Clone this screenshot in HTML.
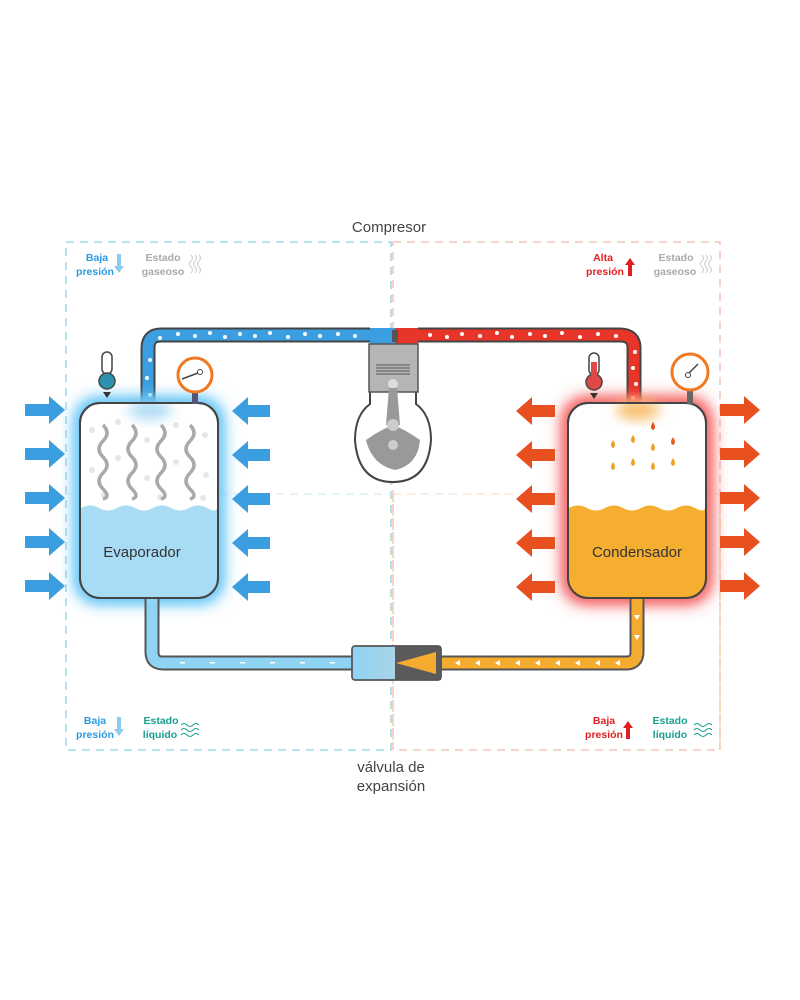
<!DOCTYPE html>
<html><head><meta charset="utf-8"><style>
body{margin:0;background:#fff;width:800px;height:1000px;overflow:hidden}
svg{display:block}
text{font-family:"Liberation Sans",sans-serif}
</style></head><body>
<svg width="800" height="1000" viewBox="0 0 800 1000" xmlns="http://www.w3.org/2000/svg">
<defs>
<filter id="blur" x="-40%" y="-40%" width="180%" height="180%"><feGaussianBlur stdDeviation="9"/></filter>
<filter id="sb" x="-40%" y="-40%" width="180%" height="180%"><feGaussianBlur stdDeviation="6"/></filter>
<linearGradient id="vg" x1="0" x2="1"><stop offset="0" stop-color="#8fd3f5"/><stop offset="0.5" stop-color="#a9d4e6"/><stop offset="1" stop-color="#8c9a8a"/></linearGradient>
</defs>
<!-- dashed frames -->
<rect x="66" y="242" width="325" height="508" fill="none" stroke="#8cd0e6" stroke-width="1.3" stroke-dasharray="8 6"/>
<rect x="393" y="242" width="327" height="508" fill="none" stroke="#f5b8b0" stroke-width="1.3" stroke-dasharray="8 6"/>
<line x1="66" y1="494" x2="391" y2="494" stroke="#d3ecf4" stroke-width="1.3" stroke-dasharray="8 6"/>
<line x1="393" y1="494" x2="720" y2="494" stroke="#f9e2d0" stroke-width="1.3" stroke-dasharray="8 6"/>
<line x1="393" y1="494" x2="393" y2="750" stroke="#f5c89a" stroke-width="1.3" stroke-dasharray="8 6"/>
<line x1="720" y1="494" x2="720" y2="750" stroke="#f5c89a" stroke-width="1.3" stroke-dasharray="8 6"/>
<text x="389" y="232" font-size="15" fill="#444" text-anchor="middle">Compresor</text>
<text x="391" y="772" font-size="15" fill="#444" text-anchor="middle">válvula de</text>
<text x="391" y="791" font-size="15" fill="#444" text-anchor="middle">expansión</text>

<!-- top pipe -->
<path d="M148 405 V348 Q148 335 161 335 H370" fill="none" stroke="#444" stroke-width="15"/>
<path d="M148 405 V348 Q148 335 161 335 H370" fill="none" stroke="#3a9ee0" stroke-width="11"/>
<path d="M418 335 H620 Q634 335 634 348 V405" fill="none" stroke="#444" stroke-width="15"/>
<path d="M418 335 H620 Q634 335 634 348 V405" fill="none" stroke="#e8352a" stroke-width="11"/>
<g fill="#fff">
<circle cx="150" cy="360" r="2"/><circle cx="147" cy="378" r="2"/><circle cx="150" cy="395" r="2"/><circle cx="160" cy="338" r="2"/>
<circle cx="178" cy="334" r="2"/><circle cx="195" cy="336" r="2"/><circle cx="210" cy="333" r="2"/><circle cx="225" cy="337" r="2"/><circle cx="240" cy="334" r="2"/><circle cx="255" cy="336" r="2"/><circle cx="270" cy="333" r="2"/><circle cx="288" cy="337" r="2"/><circle cx="305" cy="334" r="2"/><circle cx="320" cy="336" r="2"/><circle cx="338" cy="334" r="2"/><circle cx="355" cy="336" r="2"/>
<circle cx="430" cy="335" r="2"/><circle cx="447" cy="337" r="2"/><circle cx="462" cy="334" r="2"/><circle cx="480" cy="336" r="2"/><circle cx="497" cy="333" r="2"/><circle cx="512" cy="337" r="2"/><circle cx="530" cy="334" r="2"/><circle cx="545" cy="336" r="2"/><circle cx="562" cy="333" r="2"/><circle cx="580" cy="337" r="2"/><circle cx="598" cy="334" r="2"/><circle cx="616" cy="336" r="2"/>
<circle cx="635" cy="352" r="2"/><circle cx="633" cy="368" r="2"/><circle cx="636" cy="384" r="2"/><circle cx="633" cy="398" r="2"/>
</g>

<!-- compressor -->
<path d="M370 392 V404 Q355 415 355 440 Q358 482 393 482 Q428 482 431 440 Q431 415 416 404 V392" fill="#fff" stroke="#444" stroke-width="2"/>
<rect x="370" y="328" width="25" height="16" fill="#3a9ee0"/>
<rect x="395" y="328" width="23" height="16" fill="#e8352a"/>
<rect x="392" y="330" width="6" height="12" fill="#555"/>
<rect x="369" y="344" width="49" height="48" fill="#b5b5b5" stroke="#555" stroke-width="1.5"/>
<g stroke="#555" stroke-width="1"><line x1="376" y1="365" x2="410" y2="365"/><line x1="376" y1="368" x2="410" y2="368"/><line x1="376" y1="371" x2="410" y2="371"/><line x1="376" y1="374" x2="410" y2="374"/></g>
<circle cx="393" cy="384" r="5" fill="#ddd"/>
<path d="M389 388 L386 425 H400 L397 388z" fill="#999"/>
<path d="M366 440 Q380 430 393 425 Q406 430 420 440 Q418 465 395 470 Q372 465 366 440z" fill="#999"/>
<circle cx="393" cy="425" r="6" fill="#ccc"/><circle cx="393" cy="445" r="5" fill="#ccc"/>

<!-- glows -->
<rect x="76" y="399" width="146" height="203" rx="22" fill="#6cc8f7" filter="url(#blur)"/>
<rect x="76" y="399" width="146" height="203" rx="22" fill="#6cc8f7" filter="url(#sb)"/>
<rect x="564" y="399" width="146" height="203" rx="22" fill="#f55050" filter="url(#blur)"/>
<rect x="564" y="399" width="146" height="203" rx="22" fill="#f57070" filter="url(#sb)"/>

<!-- bottom pipes -->
<path d="M152 596 V652 Q152 663 163 663 H355" fill="none" stroke="#555" stroke-width="15"/>
<path d="M152 596 V652 Q152 663 163 663 H355" fill="none" stroke="#8fd3f5" stroke-width="11"/>
<path d="M440 663 H626 Q637 663 637 652 V596" fill="none" stroke="#555" stroke-width="15"/>
<path d="M440 663 H626 Q637 663 637 652 V596" fill="none" stroke="#f5aa30" stroke-width="11"/>
<g fill="#fff">
<rect x="180" y="662" width="5" height="1.5"/><rect x="210" y="662" width="5" height="1.5"/><rect x="240" y="662" width="5" height="1.5"/><rect x="270" y="662" width="5" height="1.5"/><rect x="300" y="662" width="5" height="1.5"/><rect x="330" y="662" width="5" height="1.5"/>
<path d="M455 663l5-3v6z"/><path d="M475 663l5-3v6z"/><path d="M495 663l5-3v6z"/><path d="M515 663l5-3v6z"/><path d="M535 663l5-3v6z"/><path d="M555 663l5-3v6z"/><path d="M575 663l5-3v6z"/><path d="M595 663l5-3v6z"/><path d="M615 663l5-3v6z"/>
<path d="M637 620l-3-5h6z"/><path d="M637 640l-3-5h6z"/>
</g>
<!-- valve -->
<rect x="352" y="646" width="89" height="34" rx="3" fill="url(#vg)" stroke="#555" stroke-width="1.5"/>
<rect x="395" y="646" width="46" height="34" fill="#5a5a5a"/>
<path d="M396 663 L436 652 V674z" fill="#f5aa30"/>
<rect x="352" y="646" width="89" height="34" rx="3" fill="none" stroke="#555" stroke-width="1.5"/>

<!-- evaporator -->
<rect x="80" y="403" width="138" height="195" rx="20" fill="#fff" stroke="#444" stroke-width="2"/>
<g fill="#e6e6e6">
<circle cx="92" cy="430" r="3"/><circle cx="118" cy="422" r="3"/><circle cx="147" cy="440" r="3"/><circle cx="176" cy="425" r="3"/><circle cx="205" cy="435" r="3"/><circle cx="92" cy="470" r="3"/><circle cx="118" cy="458" r="3"/><circle cx="147" cy="478" r="3"/><circle cx="176" cy="462" r="3"/><circle cx="206" cy="475" r="3"/><circle cx="104" cy="495" r="3"/><circle cx="160" cy="497" r="3"/><circle cx="203" cy="498" r="3"/>
</g>
<path d="M81 508 Q90 503 99 508 T117 508 T135 508 T153 508 T171 508 T189 508 T207 508 T217 508 V578 Q217 597 198 597 H100 Q81 597 81 578z" fill="#a8dcf5"/>
<g fill="none" stroke="#aaa" stroke-width="3.5">
<path d="M103 425 q8 8 0 16 t0 16 t0 16 t0 16 t0 10"/><path d="M132 425 q8 8 0 16 t0 16 t0 16 t0 16 t0 10"/><path d="M161 425 q8 8 0 16 t0 16 t0 16 t0 16 t0 10"/><path d="M190 425 q8 8 0 16 t0 16 t0 16 t0 16 t0 10"/>
</g>
<ellipse cx="150" cy="410" rx="22" ry="10" fill="#7fc8ef" opacity="0.6" filter="url(#sb)"/>
<rect x="80" y="403" width="138" height="195" rx="20" fill="none" stroke="#444" stroke-width="2"/>
<text x="142" y="557" font-size="15" fill="#333" text-anchor="middle">Evaporador</text>

<!-- condenser -->
<rect x="568" y="403" width="138" height="195" rx="20" fill="#fff" stroke="#444" stroke-width="2"/>
<path d="M569 508 Q578 503 587 508 T605 508 T623 508 T641 508 T659 508 T677 508 T695 508 T705 508 V578 Q705 597 686 597 H588 Q569 597 569 578z" fill="#f5ae30"/>
<ellipse cx="638" cy="410" rx="22" ry="10" fill="#f8c070" filter="url(#sb)"/>
<g fill="#f0a020">
<path d="M613 440q-4 6 0 8q4-2 0-8z"/><path d="M633 435q-4 6 0 8q4-2 0-8z"/><path d="M653 443q-4 6 0 8q4-2 0-8z"/><path d="M613 462q-4 6 0 8q4-2 0-8z"/><path d="M633 458q-4 6 0 8q4-2 0-8z"/><path d="M653 462q-4 6 0 8q4-2 0-8z"/><path d="M673 458q-4 6 0 8q4-2 0-8z"/><path d="M673 437q-4 6 0 8q4-2 0-8z" fill="#e86020"/><path d="M653 422q-4 6 0 8q4-2 0-8z" fill="#e85020"/>
</g>
<rect x="568" y="403" width="138" height="195" rx="20" fill="none" stroke="#444" stroke-width="2"/>
<text x="637" y="557" font-size="15" fill="#333" text-anchor="middle">Condensador</text>

<!-- thermometers and gauges -->
<g><rect x="102" y="352" width="10" height="22" rx="5" fill="#fff" stroke="#444" stroke-width="1.5"/><circle cx="107" cy="381" r="8" fill="#2b93b0" stroke="#444" stroke-width="1.5"/><path d="M103 392h8l-4 6z" fill="#333"/></g>
<rect x="192" y="390" width="6" height="14" fill="#557"/>
<circle cx="195" cy="375" r="17" fill="#fff" stroke="#f07820" stroke-width="3"/>
<path d="M182 379 L198 373" stroke="#444" stroke-width="1.5"/><circle cx="200" cy="372" r="2.5" fill="#fff" stroke="#444"/>
<g><rect x="589" y="353" width="10" height="22" rx="5" fill="#fff" stroke="#444" stroke-width="1.5"/><circle cx="594" cy="382" r="8" fill="#e04848" stroke="#444" stroke-width="1.5"/><rect x="591" y="362" width="6" height="14" fill="#e04848"/><path d="M590 393h8l-4 6z" fill="#333"/></g>
<rect x="687" y="388" width="6" height="16" fill="#666"/>
<circle cx="690" cy="372" r="18" fill="#fff" stroke="#f07820" stroke-width="3"/>
<path d="M688 374 L698 364" stroke="#444" stroke-width="1.5"/><circle cx="688" cy="375" r="2.5" fill="#fff" stroke="#444"/>

<!-- arrows -->
<g fill="#3a9ee0">
<path id="ar" d="M25 404h24v-8l16 14l-16 14v-8h-24z"/>
<use href="#ar" y="44"/><use href="#ar" y="88"/><use href="#ar" y="132"/><use href="#ar" y="176"/>
<path id="al" d="M270 405h-22v-8l-16 14l16 14v-8h22z"/>
<use href="#al" y="44"/><use href="#al" y="88"/><use href="#al" y="132"/><use href="#al" y="176"/>
</g>
<g fill="#e85020">
<path id="ol" d="M555 405h-23v-8l-16 14l16 14v-8h23z"/>
<use href="#ol" y="44"/><use href="#ol" y="88"/><use href="#ol" y="132"/><use href="#ol" y="176"/>
<path id="or" d="M720 404h24v-8l16 14l-16 14v-8h-24z"/>
<use href="#or" y="44"/><use href="#or" y="88"/><use href="#or" y="132"/><use href="#or" y="176"/>
</g>

<!-- labels -->
<g font-size="10.5" font-weight="bold">
<text x="97" y="261" fill="#2a9ae0" text-anchor="middle">Baja</text><text x="95" y="275" fill="#2a9ae0" text-anchor="middle">presión</text>
<path d="M117 254h4v12h3l-5 7l-5-7h3z" fill="#8ccbee"/>
<text x="163" y="261" fill="#aaa" text-anchor="middle">Estado</text><text x="163" y="275" fill="#aaa" text-anchor="middle">gaseoso</text>
<text x="603" y="261" fill="#e02020" text-anchor="middle">Alta</text><text x="605" y="275" fill="#e02020" text-anchor="middle">presión</text>
<path d="M628 276h4v-11h3l-5-7l-5 7h3z" fill="#e02020"/>
<text x="676" y="261" fill="#aaa" text-anchor="middle">Estado</text><text x="675" y="275" fill="#aaa" text-anchor="middle">gaseoso</text>
<text x="95" y="724" fill="#2a9ae0" text-anchor="middle">Baja</text><text x="95" y="738" fill="#2a9ae0" text-anchor="middle">presión</text>
<path d="M117 717h4v12h3l-5 7l-5-7h3z" fill="#8ccbee"/>
<text x="161" y="724" fill="#1aa090" text-anchor="middle">Estado</text><text x="160" y="738" fill="#1aa090" text-anchor="middle">líquido</text>
<text x="604" y="724" fill="#e02020" text-anchor="middle">Baja</text><text x="604" y="738" fill="#e02020" text-anchor="middle">presión</text>
<path d="M626 739h4v-11h3l-5-7l-5 7h3z" fill="#e02020"/>
<text x="670" y="724" fill="#1aa090" text-anchor="middle">Estado</text><text x="670" y="738" fill="#1aa090" text-anchor="middle">líquido</text>
</g>
<g fill="none" stroke="#ccc" stroke-width="1">
<path d="M191 255q3 3 0 6t0 6t0 6"/><path d="M195 255q3 3 0 6t0 6t0 6"/><path d="M199 255q3 3 0 6t0 6t0 6"/>
<path d="M702 255q3 3 0 6t0 6t0 6"/><path d="M706 255q3 3 0 6t0 6t0 6"/><path d="M710 255q3 3 0 6t0 6t0 6"/>
</g>
<g fill="none" stroke="#1aa090" stroke-width="1">
<path d="M181 725q3-3 6 0t6 0t6 0"/><path d="M181 730q3-3 6 0t6 0t6 0"/><path d="M181 735q3-3 6 0t6 0t6 0"/>
<path d="M694 725q3-3 6 0t6 0t6 0"/><path d="M694 730q3-3 6 0t6 0t6 0"/><path d="M694 735q3-3 6 0t6 0t6 0"/>
</g>
</svg>
</body></html>
